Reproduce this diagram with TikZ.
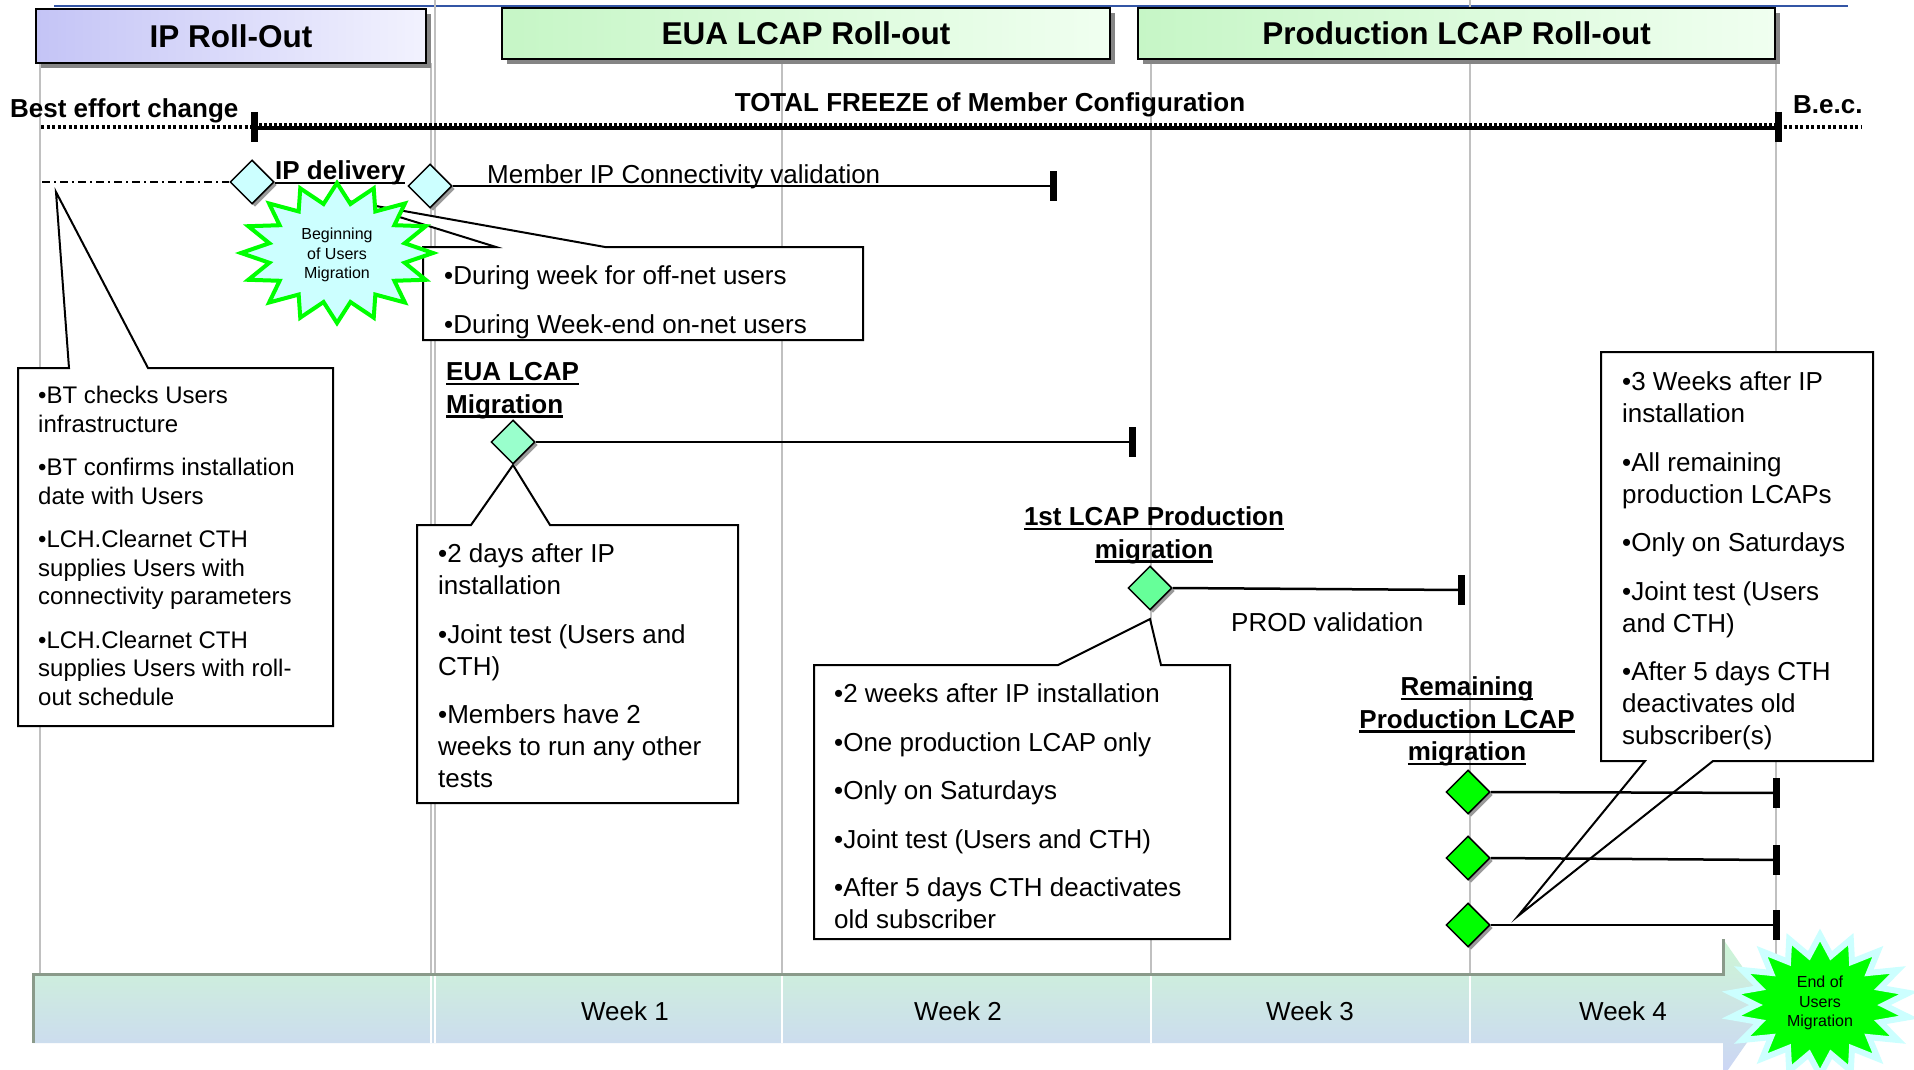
\documentclass[tikz,border=0pt]{standalone}
\usepackage{fontspec}
\setmainfont{Liberation Sans}
\usetikzlibrary{shapes.geometric,calc,shadows}
\definecolor{vgrey}{HTML}{C0C0C0}
\definecolor{shgrey}{HTML}{858585}
\definecolor{dshgrey}{HTML}{9A9A9A}
\definecolor{topblue}{HTML}{3355A5}
\definecolor{lav}{HTML}{C4C4F6}
\definecolor{lavlight}{HTML}{F2F2FE}
\definecolor{grn}{HTML}{C6F6C6}
\definecolor{grnlight}{HTML}{F0FFF0}
\definecolor{cyanlight}{HTML}{CCFFFF}
\definecolor{aqua}{HTML}{99FFCC}
\definecolor{midgreen}{HTML}{66FF99}
\definecolor{brightgreen}{HTML}{00FF00}
\definecolor{bandtop}{HTML}{CDF6D5}
\definecolor{bandbot}{HTML}{CCD4F6}
\definecolor{bandedge}{HTML}{8A9A8A}
\newcommand\myul[1]{\setbox0\hbox{#1}\rlap{\rule[-4.6pt]{\wd0}{2.2pt}}\box0}
\tikzset{
  gridline/.style={draw=vgrey, line width=1.5},
  conn/.style={draw=black, line width=2.5},
  header/.style={draw=black, line width=2.5, inner sep=0, font=\bfseries\fontsize{31.5}{36}\selectfont,
     drop shadow={shadow xshift=5pt, shadow yshift=-5pt, fill=shgrey, opacity=1}},
  diam/.style={diamond, draw=black, line width=1.5, inner sep=0, minimum width=44, minimum height=44,
     drop shadow={shadow xshift=3pt, shadow yshift=-3pt, fill=dshgrey, opacity=1}},
  callout/.style={draw=black, line width=2, fill=white},
  body/.style={inner sep=0, anchor=north west, align=left, font=\fontsize{26}{32}\selectfont},
  smallbody/.style={inner sep=0, anchor=north west, align=left, font=\fontsize{24}{28.5}\selectfont},
  boldlabel/.style={inner sep=0, font=\bfseries\fontsize{26}{32.5}\selectfont},
  plain/.style={inner sep=0, font=\fontsize{26}{32}\selectfont},
  startext/.style={inner sep=0, align=center, font=\fontsize{16}{19.5}\selectfont},
  vtick/.pic={\draw[line width=7] (0,-15) -- (0,15);},
  bestdots/.style={line width=4.5, dash pattern=on 3pt off 2.5pt},
  thickline/.style={line width=3.5},
  topdash/.style={line width=2.2, dash pattern=on 3pt off 2pt},
  dashdot/.style={line width=1.5, dash pattern=on 8pt off 4pt on 2pt off 4pt},
}
\begin{document}
\begin{tikzpicture}[x=1pt,y=-1pt]
\useasboundingbox (0,0) rectangle (1914,1070);
\clip (0,0) rectangle (1914,1070);
\fill[white] (0,0) rectangle (1914,1070);

% top blue rule
\draw[topblue, line width=1.5] (54,6) -- (1848,6);

% grid lines
\foreach \x/\y in {40/63, 431/63, 435/0, 782/63, 1151/63, 1470/0, 1776/63}
  \draw[gridline] (\x,\y) -- (\x,974);

% headers
\node[header, left color=lav, right color=lavlight, minimum width=390, minimum height=54] (h1) at (231,36) {IP Roll-Out};
\node[header, left color=grn, right color=grnlight, minimum width=608, minimum height=51] (h2) at (806,33.5) {EUA LCAP Roll-out};
\node[header, left color=grn, right color=grnlight, minimum width=637, minimum height=51] (h3) at (1456.5,33.5) {Production LCAP Roll-out};

% freeze timeline
\node[boldlabel, anchor=base west] (bec1) at (10,118) {Best effort change};
\node[boldlabel, anchor=base] (freeze) at (990,112) {TOTAL FREEZE of Member Configuration};
\node[boldlabel, anchor=base west] (bec2) at (1793,114) {B.e.c.};
\coordinate (tb) at (254,127);
\coordinate (te) at (1778,127);
\draw[bestdots] (41,127) -- (tb);
\draw[thickline] ($(tb)+(0,1)$) -- ($(te)+(0,1)$);
\draw[topdash] ($(tb)+(0,-2.5)$) -- ($(te)+(0,-2.5)$);
\draw[bestdots] (te) -- (1861,127);
\pic at (tb) {vtick};
\pic at (te) {vtick};

% callout boxes
\coordinate (ap1) at (348,201);
\draw[callout] (423,247) -- (496,247) -- (ap1) -- (605,247) -- (863,247) -- (863,340) -- (423,340) -- cycle;
\node[body] (b1) at (444,263.3) {\rule{0pt}{21pt}•During week for off-net users\\[16.5pt]•During Week-end on-net users};

\coordinate (ap2) at (56,192);
\draw[callout] (18,368) -- (69,368) -- (ap2) -- (148,368) -- (333,368) -- (333,726) -- (18,726) -- cycle;
\node[smallbody] (b2) at (38,383.6) {\rule{0pt}{20pt}•BT checks Users\\infrastructure\\[15pt]•BT confirms installation\\date with Users\\[15pt]•LCH.Clearnet CTH\\supplies Users with\\connectivity parameters\\[15pt]•LCH.Clearnet CTH\\supplies Users with roll-\\out schedule};

\coordinate (ap3) at (513,465);
\draw[callout] (417,525) -- (471,525) -- (ap3) -- (550,525) -- (738,525) -- (738,803) -- (417,803) -- cycle;
\node[body] (b3) at (438,541.3) {\rule{0pt}{21pt}•2 days after IP\\installation\\[16.5pt]•Joint test (Users and\\CTH)\\[16.5pt]•Members have 2\\weeks to run any other\\tests};

\coordinate (ap4) at (1150,619);
\draw[callout] (814,665) -- (1058,665) -- (ap4) -- (1161,665) -- (1230,665) -- (1230,939) -- (814,939) -- cycle;
\node[body] (b4) at (834,681.3) {\rule{0pt}{21pt}•2 weeks after IP installation\\[16.5pt]•One production LCAP only\\[16.5pt]•Only on Saturdays\\[16.5pt]•Joint test (Users and CTH)\\[16.5pt]•After 5 days CTH deactivates\\old subscriber};

\coordinate (ap5) at (1518,916);
\draw[callout] (1601,352) -- (1873,352) -- (1873,761) -- (1713,761) -- (ap5) -- (1645,761) -- (1601,761) -- cycle;
\node[body] (b5) at (1622,369.3) {\rule{0pt}{21pt}•3 Weeks after IP\\installation\\[16.5pt]•All remaining\\production LCAPs\\[16.5pt]•Only on Saturdays\\[16.5pt]•Joint test (Users\\and CTH)\\[16.5pt]•After 5 days CTH\\deactivates old\\subscriber(s)};

% IP delivery row
\node[diam, fill=cyanlight] (d1) at (252,182) {};
\node[diam, fill=cyanlight] (d2) at (430,186) {};
\draw[dashdot] (42,182) -- (d1.west);
\node[boldlabel, anchor=base west] (ipd) at (275,179.5) {\myul{IP delivery}};
\coordinate (t1) at (1053,186);
\draw[conn] (d2.east) -- (t1);
\pic at (t1) {vtick};
\node[plain, anchor=base west] (mip) at (487,183) {Member IP Connectivity validation};

% EUA LCAP migration
\node[boldlabel, anchor=north west, align=left] (eual) at (446,359.3) {\rule{0pt}{21pt}\myul{EUA LCAP}\\\myul{Migration}};
\node[diam, fill=aqua] (d3) at (513,442) {};
\coordinate (t2) at (1132,442);
\draw[conn] (d3.east) -- (t2);
\pic at (t2) {vtick};

% 1st LCAP production migration
\node[boldlabel, anchor=north, align=center] (prodl) at (1154,504.3) {\rule{0pt}{21pt}\myul{1st LCAP Production}\\\myul{migration}};
\node[diam, fill=midgreen] (d4) at (1150,588) {};
\coordinate (t3) at (1461,590);
\draw[conn] (d4.east) -- (t3);
\pic at (t3) {vtick};
\node[plain, anchor=base west] (pv) at (1231,631) {PROD validation};

% remaining production LCAP migration
\node[boldlabel, anchor=north, align=center] (reml) at (1467,674.3) {\rule{0pt}{21pt}\myul{Remaining}\\\myul{Production LCAP}\\\myul{migration}};
\node[diam, fill=brightgreen] (d5) at (1468,792) {};
\node[diam, fill=brightgreen] (d6) at (1468,858) {};
\node[diam, fill=brightgreen] (d7) at (1468,925) {};
\coordinate (t5) at (1776,793);
\coordinate (t6) at (1776,860);
\coordinate (t7) at (1776,925);
\draw[conn] (d5.east) -- (t5);
\draw[conn] (d6.east) -- (t6);
\draw[conn] (d7.east) -- (t7);
\pic at (t5) {vtick};
\pic at (t6) {vtick};
\pic at (t7) {vtick};

% beginning star
\coordinate (c1) at (337,253);
\filldraw[draw=brightgreen, fill=cyanlight, line width=4, line join=miter]
  (c1) ++(90:96 and 70)
  \foreach \i in {0,...,15}{ -- ($(c1)+({101.25+\i*22.5}:69 and 50)$) -- ($(c1)+({112.5+\i*22.5}:96 and 70)$) } -- cycle;
\node[startext] (s1) at (337,255) {Beginning\\of Users\\Migration};

% bottom band
\shade[top color=bandtop, bottom color=bandbot] (33,974) -- (1723,974) -- (1723,939) -- (1771,1008) -- (1723,1077) -- (1723,1043) -- (33,1043) -- cycle;
\draw[bandedge, line width=3] (33,1043) -- (33,974) -- (1723,974) -- (1723,939);
\foreach \x in {431,435,782,1151,1470}
  \draw[white, line width=1.5] (\x,976) -- (\x,1043);
\node[plain] (w1) at (625,1011) {Week 1};
\node[plain] (w2) at (958,1011) {Week 2};
\node[plain] (w3) at (1310,1011) {Week 3};
\node[plain] (w4) at (1623,1011) {Week 4};

% end star
\coordinate (c2) at (1820,1005);
\filldraw[draw=cyanlight, fill=brightgreen, line width=6, line join=miter]
  (c2) ++(90:90 and 70)
  \foreach \i in {0,...,17}{ -- ($(c2)+({100+\i*20}:64 and 50)$) -- ($(c2)+({110+\i*20}:90 and 70)$) } -- cycle;
\node[startext] (s2) at (1820,1003) {End of\\Users\\Migration};
\end{tikzpicture}
\end{document}
